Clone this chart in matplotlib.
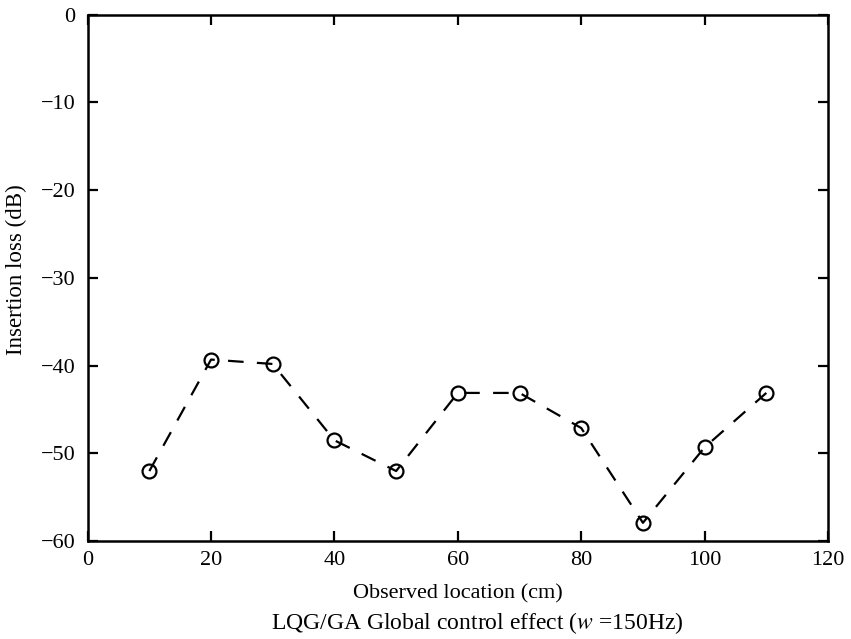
import matplotlib
matplotlib.use("Agg")
import matplotlib.pyplot as plt

plt.rcParams['font.family'] = ['Liberation Serif', 'DejaVu Serif']
plt.rcParams['mathtext.fontset'] = 'stix'

locations = [10, 20, 30, 40, 50, 60, 70, 80, 90, 100, 110]
insertion_loss = [-52.0, -39.3, -39.8, -48.5, -52.0, -43.1, -43.1, -47.1, -57.9, -49.3, -43.1]
xticks = [0, 20, 40, 60, 80, 100, 120]
yticks = [0, -10, -20, -30, -40, -50, -60]

fig = plt.figure(figsize=(8.51, 6.39), dpi=100)
ax = fig.add_axes([0.103, 0.153, 0.870, 0.824])

ax.plot(locations, insertion_loss, color='black', linewidth=1.6, dashes=(7, 6),
        marker='o', markersize=10, markerfacecolor='none', markeredgecolor='black',
        markeredgewidth=1.6)

ax.set_xlim(0, 120)
ax.set_ylim(-60, 0)
ax.set_xticks(xticks)
ax.set_yticks(yticks)
ax.tick_params(direction='in', length=7, width=1.6, top=True, right=True,
               labelsize=16)
ax.tick_params(axis='y', pad=9)
ax.tick_params(axis='x', pad=7)
for s in ax.spines.values():
    s.set_linewidth(1.8)

ax.set_xlabel('Observed location (cm)', fontsize=16, labelpad=10)
ax.set_ylabel('Insertion loss (dB)', fontsize=16.5, va='center')
ax.yaxis.set_label_coords(-0.096, 0.516)
fig.text(0.5605, 0.004, r'LQG/GA Global control effect ($w$ =150Hz)',
         ha='center', va='bottom', fontsize=17)

fig.savefig('out.png', dpi=100)
